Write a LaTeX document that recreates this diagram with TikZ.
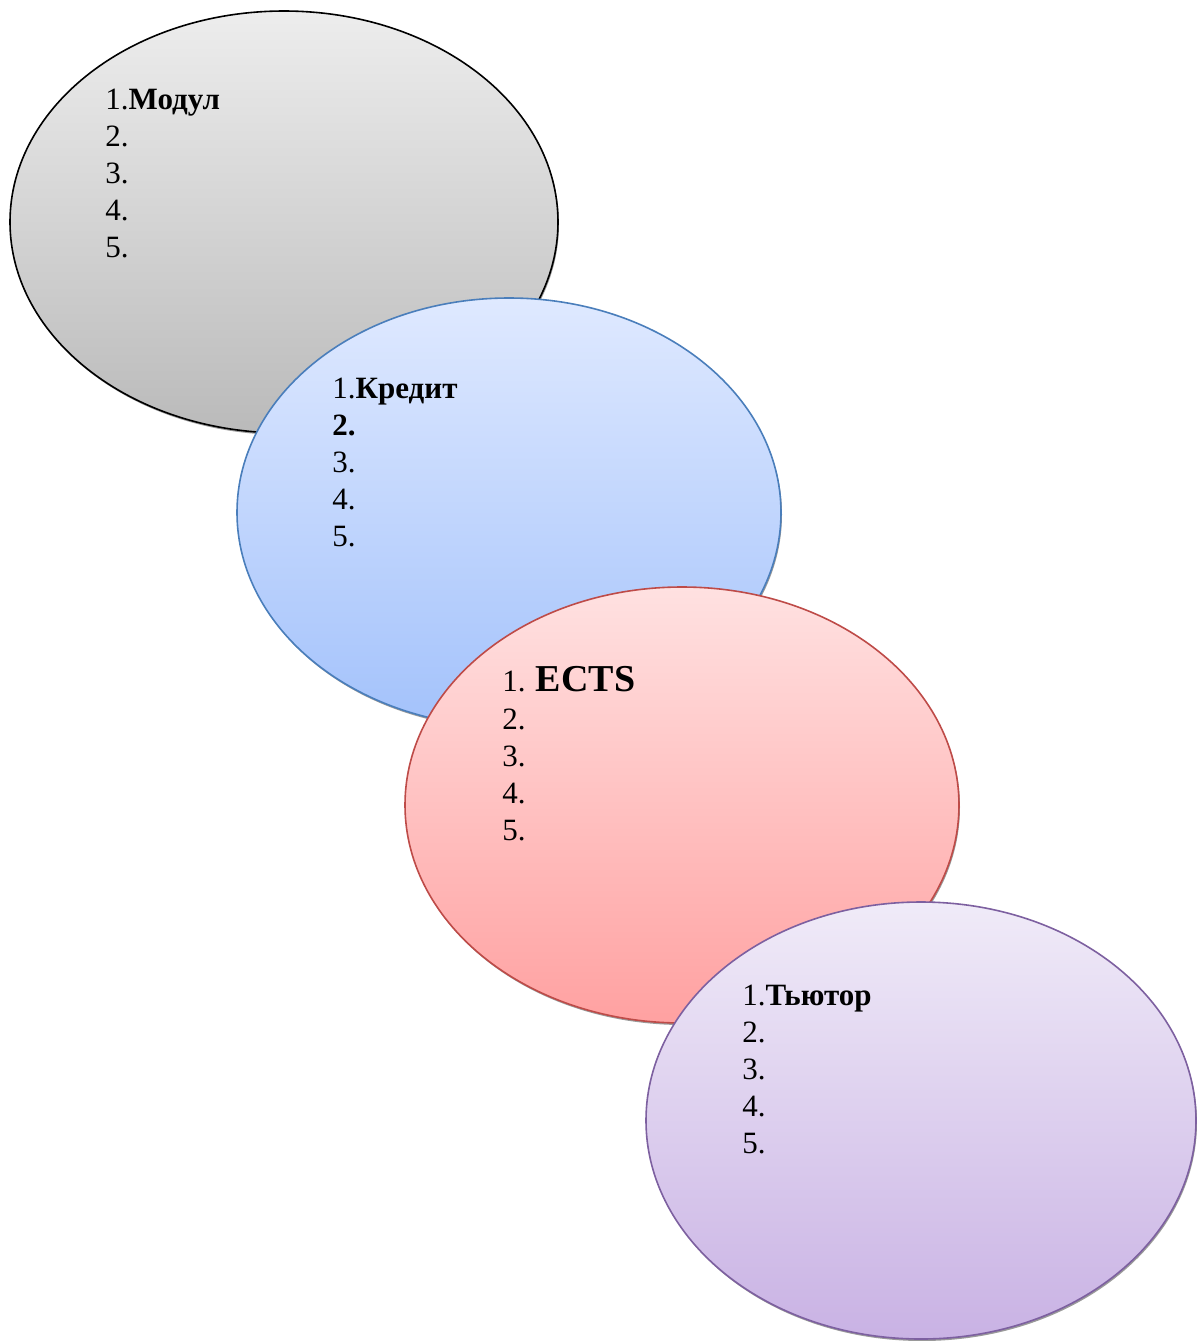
\documentclass[tikz,border=0pt]{standalone}
\usepackage{fontspec}
\setmainfont{Liberation Serif}
\usetikzlibrary{shapes.geometric}
\definecolor{grayT}{HTML}{EDEDED}
\definecolor{grayB}{HTML}{BABABA}
\definecolor{blueT}{HTML}{DFE9FF}
\definecolor{blueB}{HTML}{A3C2FB}
\definecolor{blueL}{HTML}{4A7EBB}
\definecolor{redT}{HTML}{FFE1E1}
\definecolor{redB}{HTML}{FFA1A1}
\definecolor{redL}{HTML}{BE4B48}
\definecolor{purT}{HTML}{F0EBF8}
\definecolor{purB}{HTML}{C9B2E4}
\definecolor{purL}{HTML}{7D60A0}
\definecolor{shad}{HTML}{9A9A9A}
\tikzset{
  oval/.style={ellipse, inner sep=0pt, line width=0.8pt},
  ovalshadow/.style={ellipse, inner sep=0pt, fill=shad, draw=none},
  listtext/.style={anchor=base west, inner sep=0pt, align=left,
    font=\fontsize{15.5}{18.4}\selectfont},
}
\begin{document}
\begin{tikzpicture}[x=0.5pt, y=-0.5pt]
\useasboundingbox (0,0) rectangle (1197,1341);
% ellipse 1 (gray)
\node[ovalshadow, minimum width=274pt, minimum height=211pt] (s1) at (285,224) {};
\node[oval, draw=black, top color=grayT, bottom color=grayB, minimum width=274pt, minimum height=211pt] (e1) at (284,222) {};
\node[listtext] (t1) at (105,257) {1.\textbf{Модул}\\2.\\3.\\4.\\5.};
% ellipse 2 (blue)
\node[ovalshadow, minimum width=272pt, minimum height=214.5pt] (s2) at (510,514.5) {};
\node[oval, draw=blueL, top color=blueT, bottom color=blueB, minimum width=272pt, minimum height=214.5pt] (e2) at (509,512.5) {};
\node[listtext] (t2) at (332,546) {1.\textbf{Кредит}\\\textbf{2.}\\3.\\4.\\5.};
% ellipse 3 (red)
\node[ovalshadow, minimum width=277pt, minimum height=218pt] (s3) at (683,807) {};
\node[oval, draw=redL, top color=redT, bottom color=redB, minimum width=277pt, minimum height=218pt] (e3) at (682,805) {};
\node[listtext] (t3) at (502,840) {1. {\fontsize{19}{18.4}\selectfont\textbf{ECTS}}\\[0.6pt]2.\\3.\\4.\\5.};
% ellipse 4 (purple)
\node[ovalshadow, minimum width=275pt, minimum height=218.5pt] (s4) at (922,1122.5) {};
\node[oval, draw=purL, top color=purT, bottom color=purB, minimum width=275pt, minimum height=218.5pt] (e4) at (921,1120.5) {};
\node[listtext] (t4) at (742,1153) {1.\textbf{Тьютор}\\2.\\3.\\4.\\5.};
\end{tikzpicture}
\end{document}
